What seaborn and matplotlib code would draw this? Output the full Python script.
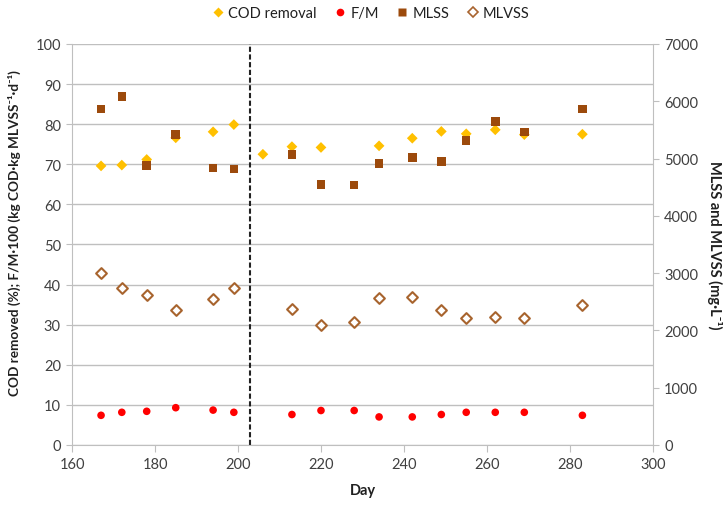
import matplotlib
matplotlib.use("Agg")
import matplotlib.pyplot as plt
import seaborn as sns
import pandas as pd
from matplotlib.lines import Line2D

# Sampling days and measured values
days_cod = [167, 172, 178, 185, 194, 199, 206, 213, 220, 234, 242, 249, 255, 262, 269, 283]
cod_removal = [69.6, 69.8, 71.2, 76.6, 78.1, 79.9, 72.5, 74.4, 74.2, 74.6, 76.5, 78.2, 77.6, 78.6, 77.4, 77.5]

days_solids = [167, 172, 178, 185, 194, 199, 213, 220, 228, 234, 242, 249, 255, 262, 269, 283]
fm_x100 = [7.4, 8.15, 8.4, 9.3, 8.7, 8.15, 7.6, 8.6, 8.6, 7.0, 7.0, 7.6, 8.15, 8.15, 8.15, 7.4]
mlss = [5865, 6080, 4876, 5424, 4835, 4818, 5075, 4551, 4539, 4917, 5022, 4953, 5318, 5650, 5464, 5865]
mlvss = [3002, 2735, 2624, 2357, 2543, 2735, 2368, 2100, 2141, 2560, 2578, 2357, 2222, 2240, 2211, 2449]

phase_change_day = 203

x_ticks = [160, 180, 200, 220, 240, 260, 280, 300]
left_ticks = list(range(0, 101, 10))
right_ticks = list(range(0, 7001, 1000))

sns.set_style("white")
plt.rcParams["font.family"] = ["Lato", "DejaVu Sans"]

c_cod = "#FFC000"
c_fm = "#FF0000"
c_mlss = "#9C4A0C"
c_mlvss = "#A8642E"
grid_c = "#BFBFBF"
txt_c = "#404040"

df_cod = pd.DataFrame({"day": days_cod, "val": cod_removal})
df_sol = pd.DataFrame({"day": days_solids, "fm": fm_x100, "mlss": mlss, "mlvss": mlvss})

fig = plt.figure(figsize=(7.23, 5.06), dpi=100)
ax = fig.add_axes([0.0996, 0.1186, 0.8035, 0.7925])
ax2 = ax.twinx()

# horizontal gridlines on primary axis
for v in left_ticks:
    ax.axhline(v, color=grid_c, lw=1.0, zorder=0)

sns.scatterplot(data=df_cod, x="day", y="val", ax=ax, marker="D", s=30,
                color=c_cod, edgecolor="none", zorder=3, legend=False)
sns.scatterplot(data=df_sol, x="day", y="fm", ax=ax, marker="o", s=30,
                color=c_fm, edgecolor="none", zorder=3, legend=False)
ax.plot([phase_change_day, phase_change_day], [0, 100], color="#222222",
        lw=1.5, ls=(0, (2.5, 1.2)), zorder=2)

sns.scatterplot(data=df_sol, x="day", y="mlss", ax=ax2, marker="s", s=38,
                color=c_mlss, edgecolor="none", zorder=3, legend=False)
sns.scatterplot(data=df_sol, x="day", y="mlvss", ax=ax2, marker="D", s=30,
                facecolor="white", edgecolor=c_mlvss, linewidth=1.5, zorder=3, legend=False)

ax.set_xlim(160, 300)
ax.set_ylim(0, 100)
ax2.set_ylim(0, 7000)
ax.set_xticks(x_ticks)
ax.set_yticks(left_ticks)
ax2.set_yticks(right_ticks)

for a in (ax, ax2):
    for s in a.spines.values():
        s.set_visible(False)
ax.spines["left"].set_visible(True)
ax.spines["left"].set_color(grid_c)
ax.spines["bottom"].set_visible(True)
ax.spines["bottom"].set_color(grid_c)
ax2.spines["right"].set_visible(True)
ax2.spines["right"].set_color(grid_c)

ax.tick_params(axis="x", direction="out", length=5, color=grid_c, labelsize=10.5,
               labelcolor=txt_c, bottom=True, pad=4)
ax.tick_params(axis="y", direction="out", length=4, color=grid_c, labelsize=10.5,
               labelcolor=txt_c, left=True, pad=4)
ax2.tick_params(axis="y", direction="out", length=4, color=grid_c, labelsize=10.5,
                labelcolor=txt_c, right=True, pad=4)

ax.set_xlabel("Day", fontsize=10.5, fontweight="bold", color="#202020", labelpad=8)
ax.set_ylabel("COD removed (%); F/M·100 (kg COD·kg MLVSS⁻¹·d⁻¹)", fontsize=9.8,
              fontweight="bold", color="#202020", labelpad=7)
ax.yaxis.set_label_coords(-0.088, 0.53)
ax2.set_ylabel("MLSS and MLVSS (mg·L⁻¹)", fontsize=10.5, fontweight="bold",
               color="#202020", rotation=-90, labelpad=18)

handles = [
    Line2D([], [], ls="none", marker="D", ms=5, color=c_cod, mec="none"),
    Line2D([], [], ls="none", marker="o", ms=5.5, color=c_fm, mec="none"),
    Line2D([], [], ls="none", marker="s", ms=6, color=c_mlss, mec="none"),
    Line2D([], [], ls="none", marker="D", ms=5.5, mfc="white", mec=c_mlvss, mew=1.2),
]
labels = ["COD removal", "F/M", "MLSS", "MLVSS"]
fig.legend(handles, labels, loc="center", bbox_to_anchor=(0.512, 0.972), ncol=4,
           frameon=False, fontsize=10.5, handletextpad=0.2, columnspacing=1.1,
           handlelength=1.0, labelcolor="#202020")

fig.savefig("out.png", dpi=100)
